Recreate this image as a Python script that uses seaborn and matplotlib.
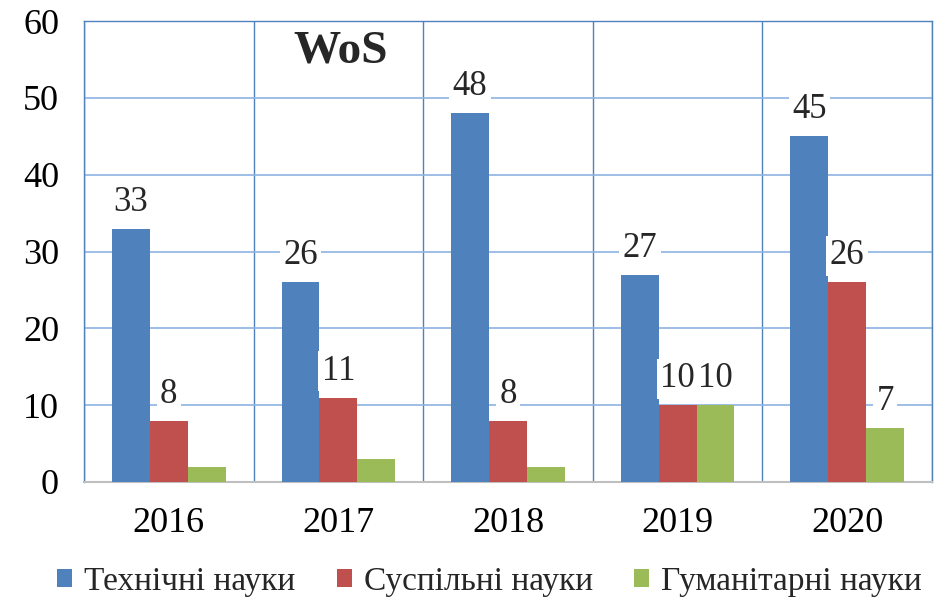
import numpy as np
import pandas as pd
import matplotlib
matplotlib.use('Agg')
import matplotlib.pyplot as plt
import seaborn as sns

# Data
years = ['2016', '2017', '2018', '2019', '2020']
series = ['Технічні науки', 'Суспільні науки', 'Гуманітарні науки']
tech = [33, 26, 48, 27, 45]
social = [8, 11, 8, 10, 26]
human = [2, 3, 2, 10, 7]
# the small humanities bars carry no label in the original
human_labels = [None, None, None, 10, 7]

colors = ['#4F81BD', '#C0504D', '#9BBB59']

df = pd.DataFrame({
    'year': years * 3,
    'series': [s for s in series for _ in years],
    'value': tech + social + human,
})

sns.set_theme(style='white')
plt.rcParams['font.family'] = ['Liberation Serif', 'DejaVu Serif']

fig = plt.figure(figsize=(9.38, 6), dpi=100)
ax = fig.add_axes([0.0896, 0.1967, 0.904, 0.768])

sns.barplot(data=df, x='year', y='value', hue='series', hue_order=series,
            palette=colors, width=0.67, saturation=1, ax=ax, legend=True,
            linewidth=0, zorder=3)

ax.set_ylim(0, 60)
ax.set_xlim(-0.5, 4.5)
ax.set_yticks(range(0, 61, 10))
ax.set_xlabel('')
ax.set_ylabel('')
ax.tick_params(axis='both', labelsize=26, length=0, colors='black')
ax.tick_params(axis='y', pad=18)
ax.tick_params(axis='x', pad=18)

# gridlines: horizontal at each 10, vertical between years
ax.set_xticks(np.arange(-0.5, 5, 1), minor=True)
ax.grid(True, axis='y', which='major', color='#8DB3E2', linewidth=1.2, zorder=0)
ax.grid(True, axis='x', which='minor', color='#4F81BD', linewidth=1.0, zorder=0)
ax.grid(False, axis='x', which='major')
for side in ['left', 'right', 'top']:
    ax.spines[side].set_color('#4F81BD')
    ax.spines[side].set_linewidth(1.0)
ax.spines['bottom'].set_color('#BFBFBF')
ax.spines['bottom'].set_linewidth(1.5)

# value labels with white background
labels = [tech, social, human_labels]
for cont, labs in zip(ax.containers, labels):
    for bar, lab in zip(cont, labs):
        if lab is None:
            continue
        ax.annotate(str(lab), (bar.get_x() + bar.get_width() / 2, bar.get_height()),
                    xytext=(0, 19), textcoords='offset points',
                    ha='center', va='center', fontsize=25, zorder=5,
                    bbox=dict(boxstyle='square,pad=0.1', fc='white', ec='none'))

ax.text(0.302, 0.935, 'WoS', transform=ax.transAxes, ha='center', va='center',
        fontsize=34, fontweight='bold', zorder=6)

handles, labs = ax.get_legend_handles_labels()
ax.get_legend().remove()
fig.legend(handles, labs, loc='lower center', bbox_to_anchor=(0.522, -0.045), ncol=3,
           frameon=False, fontsize=24, handlelength=0.45, handleheight=0.45,
           handletextpad=0.35, columnspacing=1.25)

fig.savefig('out.png', dpi=100)
